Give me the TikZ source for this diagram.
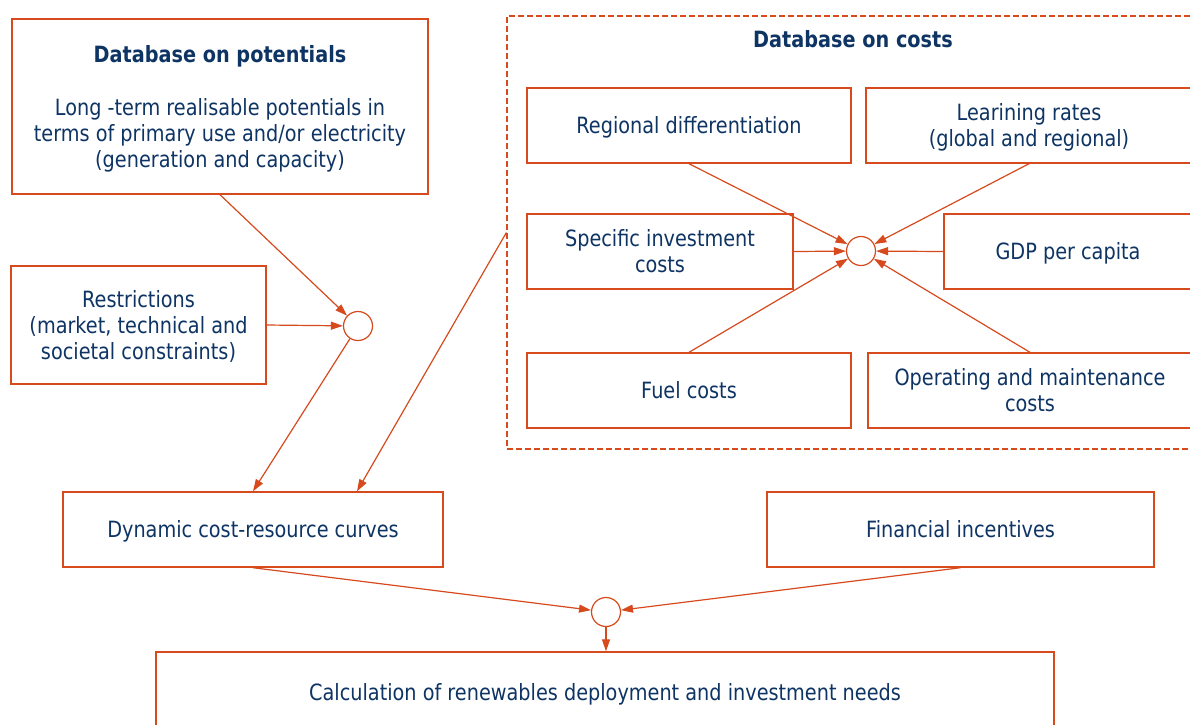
\documentclass[tikz,border=0pt]{standalone}
\usepackage{fontspec}
\setmainfont{DejaVu Sans}[FakeStretch=0.86]
\usetikzlibrary{arrows.meta,calc}
\definecolor{lc}{RGB}{214,74,30}
\definecolor{tc}{RGB}{14,52,100}
\newcommand\bxt[1]{\raisebox{-3pt}[\height][\depth]{\begin{tabular}{@{}c@{}}#1\end{tabular}}}
\tikzset{
  box/.style={draw=lc, line width=1.4pt, text=tc, inner sep=0pt, font=\fontsize{22.4}{26}\selectfont},
  dbox/.style={draw=lc, line width=1.2pt, dash pattern=on 6pt off 3pt},
  ttl/.style={text=tc, font=\fontsize{22.4}{26}\selectfont\bfseries, inner sep=0pt},
  jn/.style={circle, draw=lc, line width=1.2pt, fill=white, minimum size=29pt, inner sep=0pt},
  arr/.style={draw=lc, line width=1.2pt, -{Triangle[length=12pt,width=8pt]}}
}
\begin{document}
\begin{tikzpicture}[x=1pt,y=-1pt]
\useasboundingbox (0,0) rectangle (1190,724);
\clip (0,0) rectangle (1190,724);
\fill[white] (0,0) rectangle (1190,724);
% left side
\node[box, minimum width=416pt, minimum height=175pt] (pot) at (220,106.5)
  {\bxt{\textbf{Database on potentials}\\[27pt] Long -term realisable potentials in\\terms of primary use and/or electricity\\(generation and capacity)}};
\node[box, minimum width=255pt, minimum height=118pt] (rest) at (138.5,325)
  {\bxt{Restrictions\\(market, technical and\\societal constraints)}};
\node[jn] (c1) at (358,326) {};
% costs database
\node[dbox, minimum width=692pt, minimum height=433pt] (costs) at (853,232.5) {};
\node[ttl] (costtitle) at (853,39) {Database on costs};
\node[box, minimum width=324pt, minimum height=75pt] (reg) at (689,125.5) {\bxt{Regional differentiation}};
\node[box, minimum width=326pt, minimum height=75pt] (learn) at (1029,125.5) {\bxt{Learining rates\\(global and regional)}};
\node[box, minimum width=266pt, minimum height=75pt] (spec) at (660,251.5) {\bxt{Specific investment\\costs}};
\node[jn] (c2) at (861,251) {};
\node[box, minimum width=248pt, minimum height=75pt] (gdp) at (1068,251.5) {\bxt{GDP per capita}};
\node[box, minimum width=324pt, minimum height=75pt] (fuel) at (689,390.5) {\bxt{Fuel costs}};
\node[box, minimum width=324pt, minimum height=75pt] (om) at (1030,390.5) {\bxt{Operating and maintenance\\costs}};
% bottom
\node[box, minimum width=380pt, minimum height=75pt] (dyn) at (253,529.5) {\bxt{Dynamic cost-resource curves}};
\node[box, minimum width=387pt, minimum height=75pt] (fin) at (960.5,529.5) {\bxt{Financial incentives}};
\node[jn] (c3) at (606,612) {};
\node[box, minimum width=898pt, minimum height=80pt] (calc) at (605,692) {\bxt{Calculation of renewables deployment and investment needs}};
\coordinate (tap) at (costs.west);
\coordinate (dynr) at ($(dyn.north)+(104,0)$);
% connectors
\draw[arr] (pot.south) -- (c1);
\draw[arr] (rest.east) -- (c1);
\draw[arr] (c1) -- (dyn.north);
\draw[arr] (tap) -- (dynr);
\draw[arr] (reg.south) -- (c2);
\draw[arr] (learn.south) -- (c2);
\draw[arr] (spec.east) -- (c2);
\draw[arr] (gdp.west) -- (c2);
\draw[arr] (fuel.north) -- (c2);
\draw[arr] (om.north) -- (c2);
\draw[arr] (dyn.south) -- (c3);
\draw[arr] (fin.south) -- (c3);
\draw[arr] (c3.south) -- (c3.south |- calc.north);
\end{tikzpicture}
\end{document}
